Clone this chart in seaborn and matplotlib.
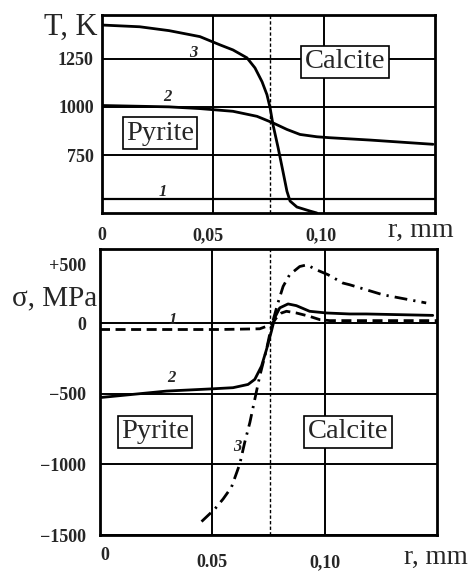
import numpy as np
import matplotlib
matplotlib.use("Agg")
import matplotlib.pyplot as plt
import matplotlib.transforms as mtransforms
import seaborn as sns

# data

# temperature, K  (top panel)
r_T1 = [0.0, 0.15]
T1 = [525, 525]

r_T2 = [0.0, 0.0302, 0.0441, 0.059, 0.0698, 0.077, 0.0833, 0.0892, 0.0968, 0.1027, 0.1207, 0.1491]
T2 = [1007, 1000, 991, 977, 951, 917, 883, 857, 845, 840, 828, 806]

r_T3 = [0.0, 0.017, 0.0302, 0.0441, 0.0532, 0.059, 0.0653, 0.0689, 0.0721, 0.0743, 0.0757,
        0.077, 0.0793, 0.0815, 0.0833, 0.0847, 0.0878, 0.0937, 0.0968]
T3 = [1424, 1415, 1395, 1364, 1321, 1295, 1254, 1202, 1130, 1063, 996,
      909, 790, 666, 563, 512, 481, 460, 450]

# stress, MPa  (bottom panel)
r_s1 = [0.0, 0.0533, 0.0711, 0.0763, 0.0785, 0.0808, 0.083, 0.0874, 0.0933, 0.0978, 0.1022, 0.15]
s1 = [-45, -45, -40, -10, 37, 72, 84, 72, 48, 25, 18, 18]

r_s2 = [0.0, 0.0296, 0.0501, 0.0592, 0.0659, 0.0689, 0.0719, 0.0741, 0.0763, 0.0778, 0.08,
        0.0837, 0.0874, 0.0933, 0.1008, 0.1111, 0.1185, 0.1481]
s2 = [-527, -481, -465, -457, -434, -398, -304, -187, -57, 39, 108,
      136, 124, 84, 72, 65, 65, 55]

r_s3 = [0.0452, 0.0511, 0.0548, 0.0585, 0.0622, 0.0644, 0.0667, 0.0689, 0.0711, 0.0741, 0.0763,
        0.0792, 0.0815, 0.0844, 0.0889, 0.0921, 0.0963, 0.1015, 0.1081, 0.1111, 0.1259, 0.1452]
s3 = [-1405, -1316, -1245, -1162, -998, -845, -704, -539, -375, -187, -22,
      143, 260, 343, 401, 413, 378, 343, 284, 272, 201, 143]

r_interface = 0.0755

x_ticks = [0, 0.05, 0.10]
x_labels_top = ["0", "0,05", "0,10"]
x_labels_bot = ["0", "0.05", "0,10"]
T_ticks = [750, 1000, 1250]
s_ticks = [-1500, -1000, -500, 0, 500]
s_labels = ["\u22121500", "\u22121000", "\u2212500", "0", "+500"]

# style

sns.set_style("white")
plt.rcParams["font.family"] = ["Liberation Serif", "DejaVu Serif"]

W, H = 472, 571
fig = plt.figure(figsize=(W / 100, H / 100), dpi=100)

def px_axes(x0, y0, x1, y1):
    return fig.add_axes([x0 / W, 1 - y1 / H, (x1 - x0) / W, (y1 - y0) / H])

def ftext(x, y, s, **kw):
    fig.text(x / W, 1 - y / H, s, **kw)

def shift(lab, dx, dy):
    # move a tick label by some pixels (dy > 0 is up)
    lab.set_transform(lab.get_transform() + mtransforms.ScaledTranslation(dx / 100, dy / 100, fig.dpi_scale_trans))

ax1 = px_axes(102, 15, 435, 213)
ax2 = px_axes(100, 249, 437, 535)

lw = 2.0
sns.lineplot(x=r_T1, y=T1, ax=ax1, color="black", lw=1.6)
sns.lineplot(x=r_T2, y=T2, ax=ax1, color="black", lw=lw)
sns.lineplot(x=r_T3, y=T3, ax=ax1, color="black", lw=lw)

sns.lineplot(x=r_s1, y=s1, ax=ax2, color="black", lw=lw, linestyle=(0, (3.6, 2.0)))
sns.lineplot(x=r_s2, y=s2, ax=ax2, color="black", lw=lw)
sns.lineplot(x=r_s3, y=s3, ax=ax2, color="black", lw=lw, linestyle=(0, (4.6, 2.2, 0.8, 2.2)))

for ax in (ax1, ax2):
    ax.axvline(r_interface, color="black", lw=1.0, linestyle=(0, (2.4, 1.6)), zorder=1)
    ax.set_xlim(0, 0.15)
    ax.set_xticks(x_ticks)
    ax.grid(True, color="black", lw=1.4)
    ax.set_axisbelow(True)
    for sp in ax.spines.values():
        sp.set_linewidth(2.0)
        sp.set_color("black")
    ax.set_xlabel("")
    ax.set_ylabel("")

ax1.set_ylim(450, 1476)
ax1.set_yticks(T_ticks)
ax1.set_yticklabels([str(t) for t in T_ticks])
ax1.set_xticklabels(x_labels_top)
ax1.tick_params(axis="y", length=0, pad=6, labelsize=13)
ax1.tick_params(axis="x", length=0, pad=10, labelsize=13)

ax2.set_ylim(-1500, 525)
ax2.set_yticks(s_ticks)
ax2.set_yticklabels(s_labels)
ax2.set_xticklabels(x_labels_bot)
ax2.tick_params(axis="y", length=0, pad=10, labelsize=13)
ax2.tick_params(axis="x", length=0, pad=14, labelsize=13)
# no grid line at +500 in the original
ax2.yaxis.get_gridlines()[-1].set_visible(False)

for lab in ax1.get_xticklabels() + ax1.get_yticklabels() + ax2.get_xticklabels() + ax2.get_yticklabels():
    lab.set_fontweight("bold")

# small label offsets seen in the original
shift(ax2.get_yticklabels()[-1], 0, -12)
shift(ax2.get_xticklabels()[0], 5, 7)
shift(ax1.get_xticklabels()[1], -5, 0)
shift(ax1.get_xticklabels()[2], -3, 0)

# axis titles
ftext(98, 35, "T, K", fontsize=22, ha="right", va="baseline")
ftext(388, 237, "r, mm", fontsize=20, ha="left", va="baseline")
ftext(97, 305, "\u03c3, MPa", fontsize=21, ha="right", va="baseline")
ftext(468, 564, "r, mm", fontsize=19.5, ha="right", va="baseline")

# region boxes
box = dict(boxstyle="square,pad=0.12", fc="white", ec="black", lw=1.2)
ftext(345, 62, "Calcite", fontsize=20.5, ha="center", va="center", bbox=box)
ftext(160, 133, "Pyrite", fontsize=20.5, ha="center", va="center", bbox=box)
ftext(155, 432, "Pyrite", fontsize=20.5, ha="center", va="center", bbox=box)
ftext(348, 432, "Calcite", fontsize=20.5, ha="center", va="center", bbox=box)

# curve numbers
num = dict(fontsize=12, fontweight="bold", fontstyle="italic", ha="center", va="center")
ftext(193, 53, "3", **num)
ftext(167, 97, "2", **num)
ftext(163, 192, "1", **num)
ftext(173, 320, "1", **num)
ftext(171, 378, "2", **num)
ftext(237, 447, "3", **num)

fig.savefig("out.png", dpi=100, facecolor="white")
